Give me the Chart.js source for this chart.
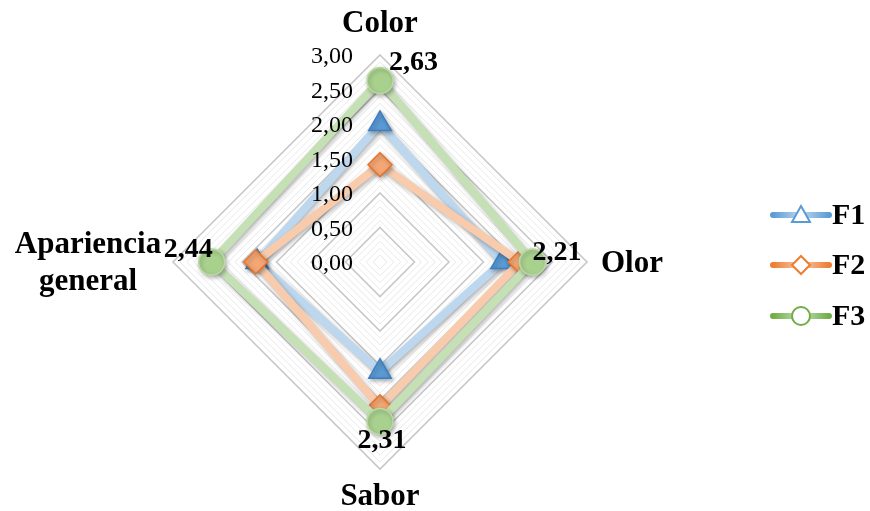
<!DOCTYPE html>
<html>
<head>
<meta charset="utf-8">
<script src="https://cdn.jsdelivr.net/npm/chart.js@4/dist/chart.umd.min.js"></script>
<style>
  html, body { margin: 0; padding: 0; background: #ffffff; }
  #wrap { width: 870px; height: 511px; }
</style>
</head>
<body>
<div id="wrap"><canvas id="c" width="870" height="511"></canvas></div>
<script>
// Sensory attributes (radar axes)
const categories = [['Color'], ['Olor'], ['Sabor'], ['Apariencia', 'general']];
const seriesNames = ['F1', 'F2', 'F3'];
const f1Values = [2.00, 1.77, 1.59, 1.78];
const f2Values = [1.41, 2.03, 2.10, 1.80];
const f3Values = [2.63, 2.21, 2.31, 2.44];
const tickLabels = ['0,00', '0,50', '1,00', '1,50', '2,00', '2,50', '3,00'];
const tickValues = [0, 0.5, 1, 1.5, 2, 2.5, 3];

const SERIF = '"Liberation Serif", "Times New Roman", serif';

const styles = [
  { line: '#bdd7ee', legendLine: '#5b9bd5', fill: '#5b9bd5', border: '#3f7fc0', point: 'triangle', r: 13 },
  { line: '#f8cbad', legendLine: '#ed7d31', fill: '#f4a774', border: '#e8722a', point: 'rectRot', r: 12 },
  { line: '#c5e0b4', legendLine: '#70ad47', fill: '#a9d18e', border: '#b9dba2', point: 'circle', r: 13 }
];

const allValues = [f1Values, f2Values, f3Values];

function fmt(v) { return v.toFixed(2).replace('.', ','); }

// soft shadow under each series line and marker
const shadowPlugin = {
  id: 'seriesShadow',
  beforeDatasetDraw(chart) {
    const ctx = chart.ctx;
    ctx.save();
    ctx.shadowColor = 'rgba(0,0,0,0.30)';
    ctx.shadowBlur = 4;
    ctx.shadowOffsetX = 1.5;
    ctx.shadowOffsetY = 2;
  },
  afterDatasetDraw(chart) { chart.ctx.restore(); }
};

// axis names, tick labels on the left of the vertical axis, value labels for F3, legend
const textPlugin = {
  id: 'radarText',
  afterDraw(chart) {
    const ctx = chart.ctx;
    const s = chart.scales.r;
    ctx.save();
    ctx.fillStyle = '#000';

    // tick labels
    ctx.font = '24px ' + SERIF;
    ctx.textAlign = 'right';
    ctx.textBaseline = 'middle';
    tickValues.forEach((v, i) => {
      const d = s.getDistanceFromCenterForValue(v);
      ctx.fillText(tickLabels[i], s.xCenter - 27, s.yCenter - d + 2);
    });

    // axis names
    ctx.font = 'bold 31px ' + SERIF;
    const R = s.drawingArea;
    let p = s.getPointPosition(0, R + 31);
    ctx.textAlign = 'center'; ctx.textBaseline = 'middle';
    ctx.fillText(categories[0][0], p.x, p.y);
    p = s.getPointPosition(1, R + 14);
    ctx.textAlign = 'left';
    ctx.fillText(categories[1][0], p.x, p.y + 2);
    p = s.getPointPosition(2, R + 28);
    ctx.textAlign = 'center';
    ctx.fillText(categories[2][0], p.x, p.y);
    p = s.getPointPosition(3, R + 30);
    ctx.textAlign = 'center';
    ctx.fillText(categories[3][0], p.x - 55, p.y - 17);
    ctx.fillText(categories[3][1], p.x - 55, p.y + 20);

    // F3 value labels
    ctx.font = 'bold 28px ' + SERIF;
    const meta = chart.getDatasetMeta(2);
    const offs = [
      { dx: 9, dy: -18, a: 'left' },
      { dx: 0, dy: -9, a: 'left' },
      { dx: 2, dy: 19, a: 'center' },
      { dx: 1, dy: -12, a: 'right' }
    ];
    meta.data.forEach((pt, i) => {
      ctx.textAlign = offs[i].a;
      ctx.fillText(fmt(f3Values[i]), pt.x + offs[i].dx, pt.y + offs[i].dy);
    });

    // legend
    const lx = 773, lw = 56;
    const ly = [215, 265, 316];
    seriesNames.forEach((name, i) => {
      const st = styles[i];
      const y = ly[i];
      ctx.lineCap = 'round';
      ctx.lineWidth = 6;
      const g = ctx.createLinearGradient(lx, 0, lx + lw, 0);
      g.addColorStop(0, st.legendLine);
      g.addColorStop(0.5, st.line);
      g.addColorStop(1, st.legendLine);
      ctx.strokeStyle = g;
      ctx.beginPath(); ctx.moveTo(lx, y); ctx.lineTo(lx + lw, y); ctx.stroke();
      const cx = lx + lw / 2;
      ctx.fillStyle = '#fff';
      ctx.strokeStyle = st.legendLine;
      ctx.lineWidth = 2;
      ctx.beginPath();
      if (st.point === 'triangle') {
        ctx.moveTo(cx, y - 9); ctx.lineTo(cx + 9, y + 7); ctx.lineTo(cx - 9, y + 7); ctx.closePath();
      } else if (st.point === 'rectRot') {
        ctx.moveTo(cx, y - 9); ctx.lineTo(cx + 9, y); ctx.lineTo(cx, y + 9); ctx.lineTo(cx - 9, y); ctx.closePath();
      } else {
        ctx.arc(cx, y, 9, 0, Math.PI * 2);
      }
      ctx.fill(); ctx.stroke();
      ctx.fillStyle = '#000';
      ctx.font = 'bold 30px ' + SERIF;
      ctx.textAlign = 'left'; ctx.textBaseline = 'middle';
      ctx.fillText(name, lx + lw + 3, y + 1);
    });
    ctx.restore();
  }
};

const datasets = seriesNames.map((name, i) => ({
  label: name,
  data: allValues[i],
  borderColor: styles[i].line,
  backgroundColor: 'rgba(0,0,0,0)',
  fill: false,
  borderWidth: 8,
  borderJoinStyle: 'miter',
  pointStyle: styles[i].point,
  pointRadius: styles[i].r,
  pointBackgroundColor: styles[i].fill,
  pointBorderColor: styles[i].border,
  pointBorderWidth: 1.5,
  order: 3 - i
}));

new Chart(document.getElementById('c'), {
  type: 'radar',
  data: { labels: categories, datasets },
  options: {
    responsive: false,
    devicePixelRatio: 1,
    animation: false,
    layout: { padding: { left: 173, right: 283, top: 55, bottom: 42 } },
    plugins: { legend: { display: false }, tooltip: { enabled: false } },
    scales: {
      r: {
        min: 0,
        max: 3,
        ticks: { display: false, stepSize: 0.1 },
        pointLabels: { display: false },
        angleLines: { display: false },
        grid: {
          lineWidth: (c) => {
            const v = c.tick ? c.tick.value : 0;
            return Math.abs(v * 2 - Math.round(v * 2)) < 1e-6 ? 1.6 : 1;
          },
          color: (c) => {
            const v = c.tick ? c.tick.value : 0;
            return Math.abs(v * 2 - Math.round(v * 2)) < 1e-6 ? '#c8c8c8' : '#e8e8e8';
          }
        }
      }
    }
  },
  plugins: [shadowPlugin, textPlugin]
});
</script>
</body>
</html>
